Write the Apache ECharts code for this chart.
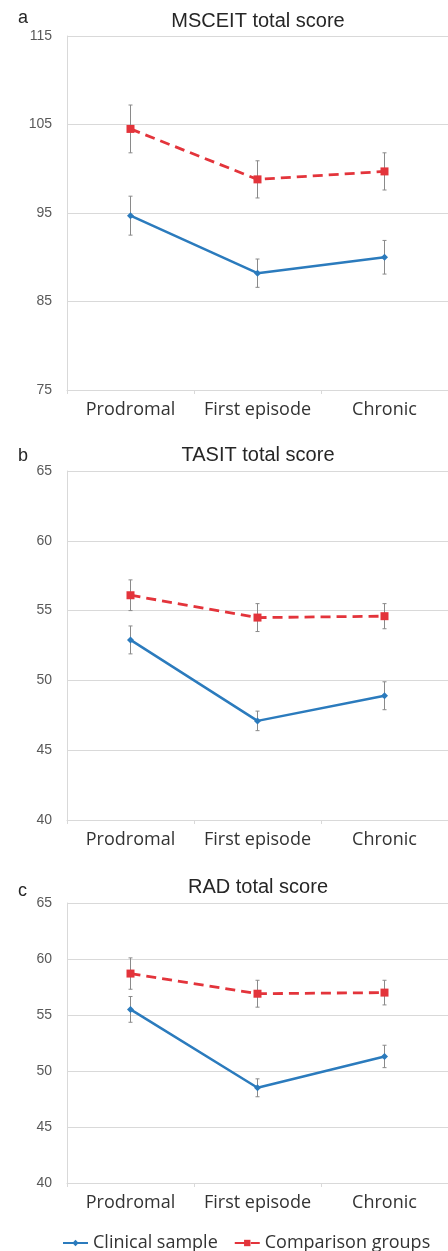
<!DOCTYPE html>
<html>
<head>
<meta charset="utf-8">
<script src="https://cdn.jsdelivr.net/npm/echarts@6/dist/echarts.min.js"></script>
<style>html,body{margin:0;padding:0;background:#fff;}#c{width:448px;height:1251px;}</style>
</head>
<body>
<div id="c"></div>
<script>
const categories = ['Prodromal', 'First episode', 'Chronic'];
const panelTitles = ['MSCEIT total score', 'TASIT total score', 'RAD total score'];
const panelLetters = ['a', 'b', 'c'];
const seriesNames = ['Clinical sample', 'Comparison groups'];

const msceitClinical = [94.7, 88.2, 90.0];
const msceitClinicalErr = [2.2, 1.6, 1.9];
const msceitComparison = [104.5, 98.8, 99.7];
const msceitComparisonErr = [2.7, 2.1, 2.1];

const tasitClinical = [52.9, 47.1, 48.9];
const tasitClinicalErr = [1.0, 0.7, 1.0];
const tasitComparison = [56.1, 54.5, 54.6];
const tasitComparisonErr = [1.1, 1.0, 0.9];

const radClinical = [55.5, 48.5, 51.3];
const radClinicalErr = [1.15, 0.8, 1.0];
const radComparison = [58.7, 56.9, 57.0];
const radComparisonErr = [1.4, 1.2, 1.1];

const yRanges = [[75, 115, 10], [40, 65, 5], [40, 65, 5]];

const panels = [
  [msceitClinical, msceitClinicalErr, msceitComparison, msceitComparisonErr],
  [tasitClinical, tasitClinicalErr, tasitComparison, tasitComparisonErr],
  [radClinical, radClinicalErr, radComparison, radComparisonErr]
];

const BLUE = '#2b7bbd', RED = '#e3343b', GRID = '#d9d9d9';
const grids = [
  {left: 67, width: 387, top: 36, height: 354},
  {left: 67, width: 387, top: 471, height: 349},
  {left: 67, width: 387, top: 903, height: 280}
];
const titleTops = [11, 445, 877];
const letterTops = [9, 447, 882];

function errRender(params, api) {
  const x = api.value(0), lo = api.value(1), hi = api.value(2);
  const t = api.coord([x, hi]), b = api.coord([x, lo]);
  const w = 2;
  const st = {stroke: '#8a8a8a', lineWidth: 1};
  return {type: 'group', children: [
    {type: 'line', shape: {x1: t[0], y1: t[1], x2: b[0], y2: b[1]}, style: st},
    {type: 'line', shape: {x1: t[0] - w, y1: t[1], x2: t[0] + w, y2: t[1]}, style: st},
    {type: 'line', shape: {x1: b[0] - w, y1: b[1], x2: b[0] + w, y2: b[1]}, style: st}
  ]};
}

const titles = [], xAxes = [], yAxes = [], series = [];
panels.forEach((p, i) => {
  titles.push({text: panelTitles[i], left: 258, top: titleTops[i], textAlign: 'center', padding: 0,
    textStyle: {fontFamily: 'Liberation Sans', fontSize: 20, fontWeight: 'normal', color: '#262626'}});
  titles.push({text: panelLetters[i], left: 18, top: letterTops[i], padding: 0,
    textStyle: {fontFamily: 'Liberation Sans', fontSize: 18, fontWeight: 'normal', color: '#262626'}});
  xAxes.push({type: 'category', gridIndex: i, data: categories, boundaryGap: true,
    axisLine: {show: true, lineStyle: {color: GRID, width: 1}},
    axisTick: {show: true, length: 4, lineStyle: {color: GRID}},
    axisLabel: {interval: 0, hideOverlap: false, fontFamily: 'Open Sans', fontSize: 18, color: '#333333', margin: 11}});
  yAxes.push({type: 'value', gridIndex: i, min: yRanges[i][0], max: yRanges[i][1], interval: yRanges[i][2],
    axisLine: {show: true, lineStyle: {color: GRID}}, axisTick: {show: false},
    splitLine: {lineStyle: {color: GRID}},
    axisLabel: {fontFamily: 'Liberation Sans', fontSize: 14, color: '#595959', margin: 15}});
  const [cv, ce, pv, pe] = p;
  series.push({type: 'custom', name: 'errC' + i, xAxisIndex: i, yAxisIndex: i, renderItem: errRender,
    data: cv.map((v, k) => [k, v - ce[k], v + ce[k]]), z: 1, silent: true});
  series.push({type: 'custom', name: 'errP' + i, xAxisIndex: i, yAxisIndex: i, renderItem: errRender,
    data: pv.map((v, k) => [k, v - pe[k], v + pe[k]]), z: 1, silent: true});
  series.push({type: 'line', name: seriesNames[0], xAxisIndex: i, yAxisIndex: i, data: cv,
    symbol: 'diamond', symbolSize: 7, color: BLUE,
    lineStyle: {color: BLUE, width: 2.5}, itemStyle: {color: BLUE}, z: 3, animation: false});
  series.push({type: 'line', name: seriesNames[1], xAxisIndex: i, yAxisIndex: i, data: pv,
    symbol: 'rect', symbolSize: 8, color: RED,
    lineStyle: {color: RED, width: 2.8, type: [10, 6]}, itemStyle: {color: RED}, z: 3, animation: false});
});

const chart = echarts.init(document.getElementById('c'), null, {renderer: 'canvas'});
chart.setOption({
  animation: false,
  backgroundColor: '#ffffff',
  title: titles,
  grid: grids,
  xAxis: xAxes,
  yAxis: yAxes,
  legend: {data: seriesNames, left: 57, top: 1229, itemWidth: 25, itemHeight: 8, itemGap: 16,
    textStyle: {fontFamily: 'Open Sans', fontSize: 18, color: '#333333'}},
  series: series
});
</script>
</body>
</html>
